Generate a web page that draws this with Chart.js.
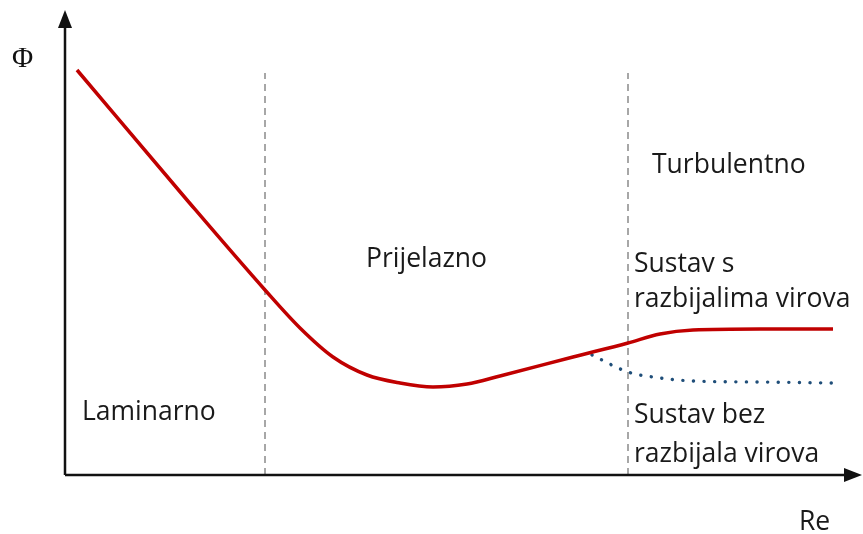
<!DOCTYPE html>
<html>
<head>
<meta charset="utf-8">
<script src="https://cdn.jsdelivr.net/npm/chart.js@4/dist/chart.umd.min.js"></script>
<style>
  html, body { margin: 0; padding: 0; background: #fff; }
  #wrap { width: 863px; height: 534px; }
</style>
</head>
<body>
<div id="wrap"><canvas id="flowChart"></canvas></div>
<script>
// Re on x, Phi on y, both in arbitrary units (no ticks in the picture)
const reWith = [12, 122, 200, 235, 268, 302, 335, 368, 402, 435, 508, 563, 595, 628, 695, 768];
const phiWith = [405, 275, 185, 147, 118, 100, 92, 88, 91, 99, 118, 132, 141, 145, 146, 146];

const reWithout = [527, 563, 595, 628, 695, 768];
const phiWithout = [120, 103, 97, 94, 93, 92];

const regimeBounds = [200, 563];
const boundTop = 402;

const xMax = 795;
const yMax = 460;

const labels = [
    {text: "Laminarno", x: 17, y: 55},
    {text: "Prijelazno", x: 301, y: 208},
    {text: "Turbulentno", x: 587, y: 302},
    {text: "Sustav s", x: 569, y: 203},
    {text: "razbijalima virova", x: 569, y: 168},
    {text: "Sustav bez", x: 569, y: 52},
    {text: "razbijala virova", x: 569, y: 13}
];

const toPoints = (xs, ys) => xs.map((x, i) => ({x: x, y: ys[i]}));

const boundSets = regimeBounds.map(b => ({
    data: [{x: b, y: 0}, {x: b, y: boundTop}],
    showLine: true,
    borderColor: "#8a8a8a",
    borderWidth: 1.5,
    borderDash: [7, 5],
    pointRadius: 0
}));

// axes with arrow heads, symbol labels and the region texts
const decor = {
    id: "decor",
    afterDraw(chart) {
        const ctx = chart.ctx;
        const xs = chart.scales.x, ys = chart.scales.y;
        const x0 = xs.getPixelForValue(0), y0 = ys.getPixelForValue(0);
        const x1 = xs.getPixelForValue(xMax), y1 = ys.getPixelForValue(yMax);
        ctx.save();
        ctx.strokeStyle = "#111";
        ctx.fillStyle = "#111";
        ctx.lineWidth = 2.5;
        ctx.beginPath();
        ctx.moveTo(x0, y0);
        ctx.lineTo(x0, y1 + 10);
        ctx.moveTo(x0, y0);
        ctx.lineTo(x1 - 10, y0);
        ctx.stroke();
        ctx.beginPath();
        ctx.moveTo(x0, y1 - 5);
        ctx.lineTo(x0 - 7, y1 + 13);
        ctx.lineTo(x0 + 7, y1 + 13);
        ctx.closePath();
        ctx.fill();
        ctx.beginPath();
        ctx.moveTo(x1 + 2, y0);
        ctx.lineTo(x1 - 16, y0 - 7);
        ctx.lineTo(x1 - 16, y0 + 7);
        ctx.closePath();
        ctx.fill();

        ctx.textBaseline = "alphabetic";
        ctx.textAlign = "left";
        ctx.font = "29px 'Liberation Serif', serif";
        ctx.fillText("\u03A6", 12, 67);
        ctx.font = "26.5px 'Open Sans', sans-serif";
        ctx.fillStyle = "#1a1a1a";
        ctx.fillText("Re", 799, 530);
        labels.forEach(l => {
            ctx.fillText(l.text, xs.getPixelForValue(l.x), ys.getPixelForValue(l.y));
        });
        ctx.restore();
    }
};

new Chart(document.getElementById("flowChart"), {
    type: "scatter",
    data: {
        datasets: [
            {
                data: toPoints(reWith, phiWith),
                showLine: true,
                borderColor: "#c00000",
                borderWidth: 3.5,
                cubicInterpolationMode: "monotone",
                pointRadius: 0
            },
            {
                data: toPoints(reWithout, phiWithout),
                showLine: true,
                borderColor: "#1f4e79",
                borderWidth: 3.4,
                borderDash: [0.1, 10.5],
                borderCapStyle: "round",
                cubicInterpolationMode: "monotone",
                pointRadius: 0
            },
            ...boundSets
        ]
    },
    options: {
        responsive: true,
        maintainAspectRatio: false,
        animation: false,
        layout: {padding: {left: 65, right: 3, top: 15, bottom: 59}},
        plugins: {legend: {display: false}, tooltip: {enabled: false}},
        scales: {
            x: {type: "linear", min: 0, max: xMax, display: false},
            y: {type: "linear", min: 0, max: yMax, display: false}
        }
    },
    plugins: [decor]
});
</script>
</body>
</html>
